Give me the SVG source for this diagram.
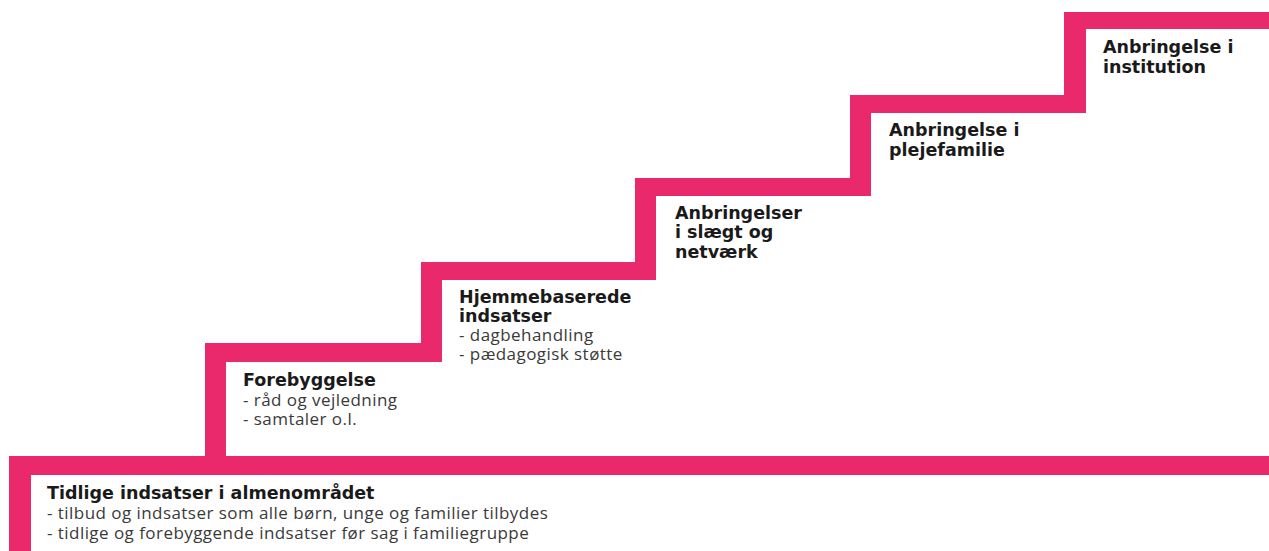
<svg xmlns="http://www.w3.org/2000/svg" width="1269" height="551" viewBox="0 0 1269 551">
<style>
.bar{fill:#E9296B}
.h{font-family:"DejaVu Sans",sans-serif;font-weight:bold;font-size:17.5px;fill:#1a1a1a}
.t{font-family:"Open Sans","Liberation Sans",sans-serif;font-size:17px;letter-spacing:0.45px;fill:#3a3a3a}
</style>
<rect width="1269" height="551" fill="#ffffff"/>
<g id="connectors">
<path class="bar" d="M9 456 H1269 V475 H31 V551 H9 Z"/>
<path class="bar" d="M205 456 V343 H421 V262 H635 V178 H850 V95 H1064 V12 H1269 V29 H1086 V113 H871 V196 H656 V280 H442 V362 H226 V456 Z"/>
</g>
<g id="step0">
<text class="h" x="47" y="499">Tidlige indsatser i almenområdet</text>
<text class="t" x="47" y="519">- tilbud og indsatser som alle børn, unge og familier tilbydes</text>
<text class="t" x="47" y="539">- tidlige og forebyggende indsatser før sag i familiegruppe</text>
</g>
<g id="step1">
<text class="h" x="243" y="386">Forebyggelse</text>
<text class="t" x="243" y="406">- råd og vejledning</text>
<text class="t" x="243" y="425">- samtaler o.l.</text>
</g>
<g id="step2">
<text class="h" x="459" y="303">Hjemmebaserede</text>
<text class="h" x="459" y="322">indsatser</text>
<text class="t" x="459" y="341">- dagbehandling</text>
<text class="t" x="459" y="360">- pædagogisk støtte</text>
</g>
<g id="step3">
<text class="h" x="675" y="219">Anbringelser</text>
<text class="h" x="675" y="238">i slægt og</text>
<text class="h" x="675" y="258">netværk</text>
</g>
<g id="step4">
<text class="h" x="889" y="136">Anbringelse i</text>
<text class="h" x="889" y="156">plejefamilie</text>
</g>
<g id="step5">
<text class="h" x="1103" y="53">Anbringelse i</text>
<text class="h" x="1103" y="73">institution</text>
</g>
</svg>
